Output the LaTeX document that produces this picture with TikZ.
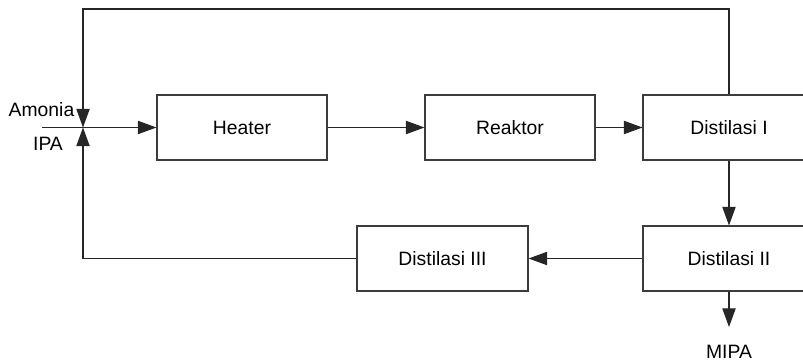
\documentclass[tikz,border=0pt]{standalone}
\usepackage{fontspec}
\setmainfont{Liberation Sans}
\usepackage{tikz}
\usetikzlibrary{arrows.meta, positioning, calc}
\definecolor{boxgray}{RGB}{60, 60, 60}
\tikzset{
  unit/.style={draw=boxgray, line width=0.8pt, minimum width=127.5pt, minimum height=48.75pt, inner sep=0pt, font=\fontsize{14.5}{17}\selectfont},
  lbl/.style={inner sep=0pt, font=\fontsize{14.5}{17}\selectfont},
  flow/.style={draw=black!85, line width=0.8pt, -{Triangle[length=14pt, width=10pt]}},
  pipe/.style={draw=black!85, line width=0.8pt}
}
\begin{document}
\begin{tikzpicture}[x=0.75pt, y=-0.75pt]
  \useasboundingbox (0, 0) rectangle (803, 363);

  % Units
  \node[unit] (heater) at (242, 127.5) {Heater};
  \node[unit] (reaktor) at (510, 127.5) {Reaktor};
  \node[unit, minimum width=129pt] (dist1) at (729, 127.5) {Distilasi I};
  \node[unit, minimum width=129pt] (dist2) at (729, 258.5) {Distilasi II};
  \node[unit, minimum width=128.25pt] (dist3) at (442.5, 258.5) {Distilasi III};

  % Feed
  \coordinate (mix) at (83, 127.5);
  \coordinate (feed) at (42, 127.5);
  \coordinate (top) at (83, 9);
  \node[lbl] (amonia) at (41.5, 110) {Amonia};
  \node[lbl] (ipa) at (48, 144) {IPA};
  \node[lbl] (mipa) at (729, 352) {MIPA};
  \coordinate (prod) at (729, 327);

  % Main line
  \draw[flow] (feed) -- (heater);
  \draw[flow] (heater) -- (reaktor);
  \draw[flow] (reaktor) -- (dist1);
  \draw[flow] (dist1) -- (dist2);
  \draw[flow] (dist2.south) -- (prod);
  \draw[flow] (dist2) -- (dist3);

  % Recycle
  \draw[flow] (dist1.north) |- (top) -- (mix);
  \draw[flow] (dist3.west) -| (mix);
\end{tikzpicture}
\end{document}
